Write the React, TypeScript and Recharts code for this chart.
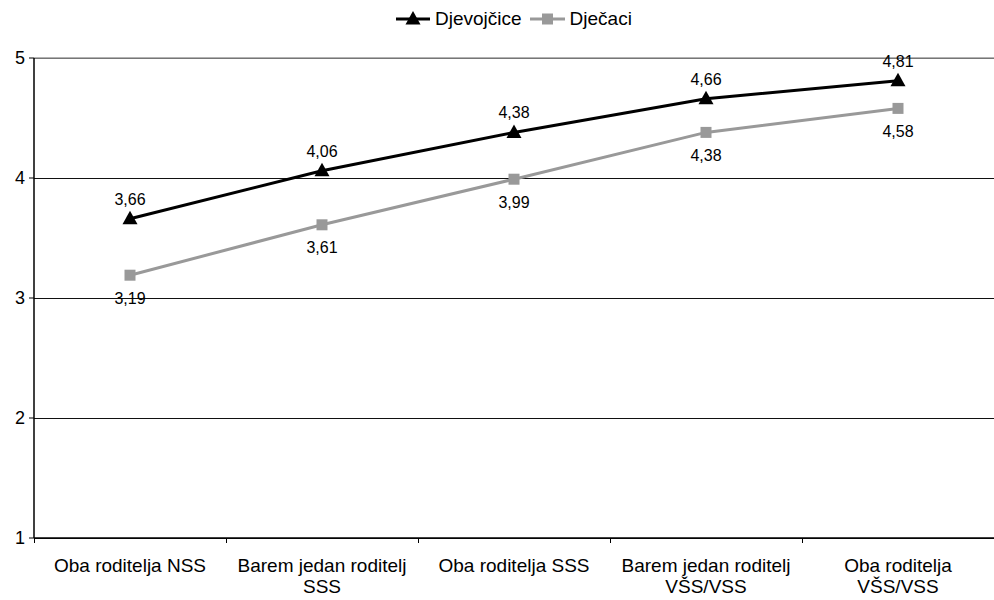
import React from "react";
import {
  LineChart,
  Line,
  XAxis,
  YAxis,
  CartesianGrid,
  Legend,
  LabelList,
  ReferenceLine,
} from "recharts";

const categories = [
  "Oba roditelja NSS",
  "Barem jedan roditelj\nSSS",
  "Oba roditelja SSS",
  "Barem jedan roditelj\nVŠS/VSS",
  "Oba roditelja\nVŠS/VSS",
];
const djevojcice = [3.66, 4.06, 4.38, 4.66, 4.81];
const djecaci = [3.19, 3.61, 3.99, 4.38, 4.58];
const yTicks = [1, 2, 3, 4, 5];

const data = categories.map((c, i) => ({
  cat: c,
  djevojcice: djevojcice[i],
  djecaci: djecaci[i],
}));

const FONT = "'Liberation Sans', Arial, sans-serif";
const GRAY = "#999999";

const fmt = (v: any) => String(v).replace(".", ",");

const Triangle = (props: any) => {
  const { cx, cy } = props;
  if (cx == null || cy == null) return null;
  return (
    <polygon
      points={`${cx},${cy - 8} ${cx - 7.5},${cy + 5.5} ${cx + 7.5},${cy + 5.5}`}
      fill="#000"
    />
  );
};

const Square = (props: any) => {
  const { cx, cy } = props;
  if (cx == null || cy == null) return null;
  return <rect x={cx - 5.5} y={cy - 5.5} width={11} height={11} fill={GRAY} />;
};

const CatTick = (props: any) => {
  const { x, y, payload } = props;
  const half = payload && payload.offset ? payload.offset : 96;
  const lines = String(payload.value).split("\n");
  return (
    <g>
      <line
        x1={x - half}
        y1={y}
        x2={x - half}
        y2={y + 5}
        stroke="#000"
        strokeWidth={1}
        shapeRendering="crispEdges"
      />
      <text
        x={x}
        y={y + 34}
        textAnchor="middle"
        fill="#000"
        fontSize={19}
        fontFamily={FONT}
      >
        {lines.map((l, i) => (
          <tspan key={i} x={x} dy={i === 0 ? 0 : 21}>
            {l}
          </tspan>
        ))}
      </text>
    </g>
  );
};

const LegendContent = () => (
  <div
    style={{
      height: 54,
      display: "flex",
      justifyContent: "flex-start",
      alignItems: "flex-start",
      paddingLeft: 396,
      fontFamily: FONT,
      fontSize: 19,
      color: "#000",
    }}
  >
    <div style={{ display: "flex", alignItems: "center", height: 30 }}>
      <svg width={34} height={20} style={{ marginRight: 5 }}>
        <line x1={0} y1={10} x2={34} y2={10} stroke="#000" strokeWidth={3} />
        <polygon points="17,2 9.5,15.5 24.5,15.5" fill="#000" />
      </svg>
      <span>Djevojčice</span>
      <svg width={35} height={20} style={{ marginLeft: 8, marginRight: 5 }}>
        <line x1={0} y1={10} x2={35} y2={10} stroke={GRAY} strokeWidth={3} />
        <rect x={12} y={4.5} width={11} height={11} fill={GRAY} />
      </svg>
      <span>Dječaci</span>
    </div>
  </div>
);

export default function App() {
  return (
    <div style={{ position: "absolute", left: 0, top: 0, width: 994, height: 600, background: "#fff" }}>
      <LineChart
        width={994}
        height={600}
        data={data}
        margin={{ top: 4, right: 0, bottom: 0, left: 0 }}
      >
        <CartesianGrid vertical={false} stroke="#111" strokeWidth={1} shapeRendering="crispEdges" />
        <ReferenceLine y={5} stroke={GRAY} strokeWidth={1.5} />
        <XAxis
          dataKey="cat"
          scale="band"
          height={62}
          tickLine={false}
          tickSize={0}
          tickMargin={0}
          axisLine={{ stroke: "#000", strokeWidth: 1.5 }}
          tick={<CatTick />}
          interval={0}
        />
        <YAxis
          domain={[1, 5]}
          ticks={yTicks}
          width={34}
          tickSize={5}
          tickMargin={4}
          axisLine={{ stroke: "#000", strokeWidth: 1.5 }}
          tickLine={{ stroke: "#000" }}
          tick={{ fill: "#000", fontSize: 18, fontFamily: FONT }}
          allowDataOverflow
        />
        <Legend verticalAlign="top" align="center" content={<LegendContent />} />
        <Line
          dataKey="djecaci"
          name="Dječaci"
          stroke={GRAY}
          strokeWidth={3}
          dot={<Square />}
          activeDot={false}
          isAnimationActive={false}
        >
          <LabelList
            dataKey="djecaci"
            position="bottom"
            offset={17}
            formatter={fmt}
            style={{ fill: "#000", fontSize: 16, fontFamily: FONT }}
          />
        </Line>
        <Line
          dataKey="djevojcice"
          name="Djevojčice"
          stroke="#000"
          strokeWidth={3}
          dot={<Triangle />}
          activeDot={false}
          isAnimationActive={false}
        >
          <LabelList
            dataKey="djevojcice"
            position="top"
            offset={14}
            formatter={fmt}
            style={{ fill: "#000", fontSize: 16, fontFamily: FONT }}
          />
        </Line>
      </LineChart>
    </div>
  );
}
